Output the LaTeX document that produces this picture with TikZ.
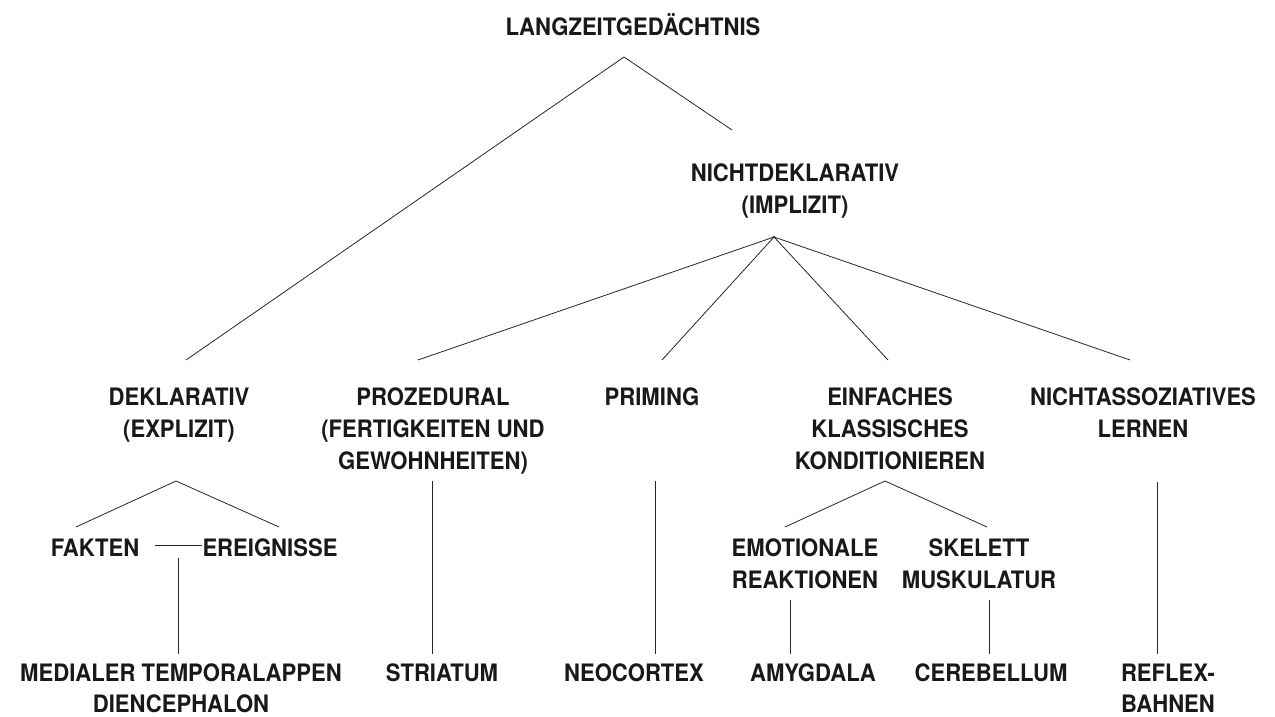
\documentclass[tikz,border=0pt]{standalone}
\usepackage{fontspec}
\setmainfont{TeX Gyre Heros}[FakeStretch=0.92]
\begin{document}
\begin{tikzpicture}[x=1pt,y=-1pt,
  lbl/.style={font=\bfseries\fontsize{24}{32}\selectfont, inner sep=0pt, anchor=north, align=center, text=black!90},
  lblb/.style={lbl, font=\bfseries\fontsize{24}{31}\selectfont},
  conn/.style={line width=0.8pt, black!85}]
\useasboundingbox (0,0) rectangle (1275,717);
% nodes
\node[lbl, anchor=base] (lzg) at (633,36) {LANGZEITGEDÄCHTNIS};
\node[lbl] (nd) at (795,164) {NICHTDEKLARATIV\\(IMPLIZIT)};
\node[lbl] (dek) at (179,388) {DEKLARATIV\\(EXPLIZIT)};
\node[lbl] (proz) at (433,388) {PROZEDURAL\\(FERTIGKEITEN UND\\GEWOHNHEITEN)};
\node[lbl] (prim) at (652,388) {PRIMING};
\node[lbl] (einf) at (890,388) {EINFACHES\\KLASSISCHES\\KONDITIONIEREN};
\node[lbl] (nass) at (1143,388) {NICHTASSOZIATIVES\\LERNEN};
\node[lbl] (fak) at (95,539) {FAKTEN};
\node[lbl] (ere) at (270,539) {EREIGNISSE};
\node[lbl] (emo) at (805,539) {EMOTIONALE\\REAKTIONEN};
\node[lbl] (ske) at (979,539) {SKELETT\\MUSKULATUR};
\node[lblb] (mtl) at (181,664) {MEDIALER TEMPORALAPPEN\\DIENCEPHALON};
\node[lbl] (str) at (442,664) {STRIATUM};
\node[lbl] (neo) at (634,664) {NEOCORTEX};
\node[lbl] (amy) at (813,664) {AMYGDALA};
\node[lbl] (cer) at (991,664) {CEREBELLUM};
\node[lblb] (ref) at (1168,664) {REFLEX-\\BAHNEN};
% connector points
\coordinate (lzgA) at (624,57);
\coordinate (dekT) at (186,360);
\coordinate (ndT) at (732,130);
\coordinate (ndA) at (774,237);
\coordinate (prozT) at (418,360);
\coordinate (primT) at (662,360);
\coordinate (einfT) at (888,360);
\coordinate (nassT) at (1130,360);
\coordinate (dekA) at (176,481);
\coordinate (fakT) at (76,527);
\coordinate (ereT) at (279,527);
\coordinate (fakR) at (155,545);
\coordinate (ereL) at (202,545);
\coordinate (fakB) at (178,558);
\coordinate (mtlT) at (178,654);
\coordinate (prozB) at (432,481);
\coordinate (strT) at (432,654);
\coordinate (primB) at (655,481);
\coordinate (neoT) at (655,654);
\coordinate (einfA) at (885,481);
\coordinate (emoT) at (785,527);
\coordinate (skeT) at (987,527);
\coordinate (emoB) at (790,600);
\coordinate (amyT) at (790,654);
\coordinate (skeB) at (989,600);
\coordinate (cerT) at (989,654);
\coordinate (nassB) at (1157,482);
\coordinate (refT) at (1157,654);
% connectors
\draw[conn] (dekT) -- (lzgA) -- (ndT);
\draw[conn] (prozT) -- (ndA) -- (primT);
\draw[conn] (einfT) -- (ndA) -- (nassT);
\draw[conn] (fakT) -- (dekA) -- (ereT);
\draw[conn] (fakR) -- (ereL);
\draw[conn] (fakB) -- (mtlT);
\draw[conn] (prozB) -- (strT);
\draw[conn] (primB) -- (neoT);
\draw[conn] (emoT) -- (einfA) -- (skeT);
\draw[conn] (emoB) -- (amyT);
\draw[conn] (skeB) -- (cerT);
\draw[conn] (nassB) -- (refT);
\end{tikzpicture}
\end{document}
